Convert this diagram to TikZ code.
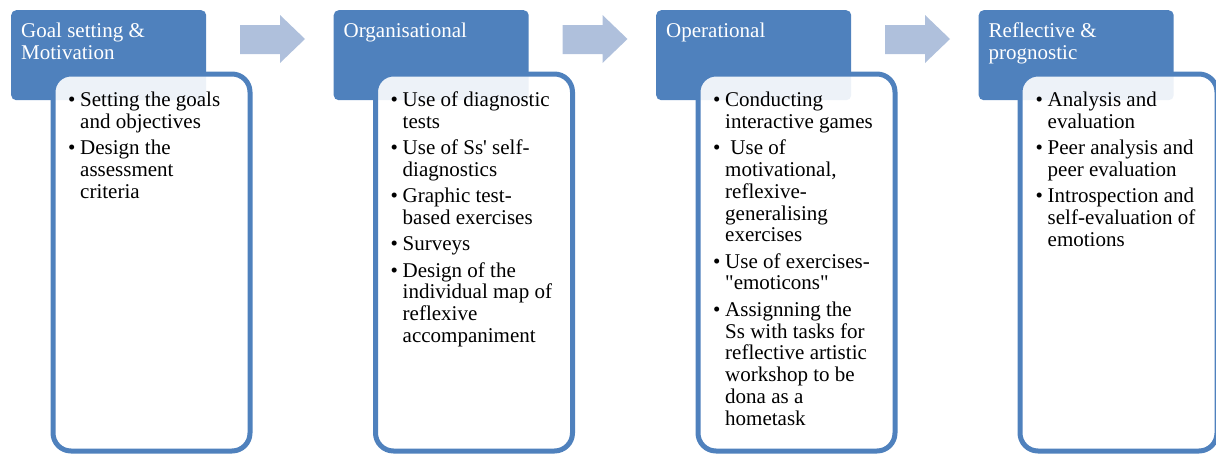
\documentclass[tikz,border=0pt]{standalone}
\usepackage{fontspec}
\setmainfont{Liberation Serif}
\definecolor{hdblue}{HTML}{4F81BD}
\definecolor{arrblue}{HTML}{AFC0DC}
\newcommand{\hdlines}[1]{\begin{minipage}[t]{185pt}\raggedright #1\end{minipage}}
\newcommand{\blist}[1]{\begin{minipage}[t]{185pt}\raggedright\let\\\newline\parskip=4.5pt #1\end{minipage}}
\newcommand{\bitem}[1]{\par\hangindent=12pt\hangafter=1\noindent\makebox[12pt][l]{\textbullet}#1\par}
\begin{document}
\begin{tikzpicture}[x=1pt, y=-1pt,
    head/.style={fill=hdblue, rounded corners=5, anchor=north west, minimum width=195, minimum height=90, inner sep=0},
    card/.style={draw=hdblue, line width=5, rounded corners=18, fill=white, fill opacity=0.9, anchor=north west, minimum width=197, minimum height=377, inner sep=0},
    headtext/.style={anchor=base west, inner sep=0, text=white, font=\fontsize{21}{22}\selectfont},
    listtext/.style={anchor=base west, inner sep=0, text=black, font=\fontsize{21}{21.8}\selectfont},
    flow/.style={fill=arrblue}]
    \useasboundingbox (0,0) rectangle (1216,453);
    \node[head] (head1) at (11,10) {};
    \node[head] (head2) at (333.5,10) {};
    \node[head] (head3) at (656,10) {};
    \node[head] (head4) at (978.5,10) {};
    \node[card] (card1) at (50.5,71.5) {};
    \node[card] (card2) at (373,71.5) {};
    \node[card] (card3) at (695.5,71.5) {};
    \node[card] (card4) at (1017.5,71.5) {};
    \fill[flow] (240,25) -- (280,25) -- (280,15) -- (305,39) -- (280,63) -- (280,54) -- (240,54) -- cycle;
    \fill[flow] (562.5,25) -- (602.5,25) -- (602.5,15) -- (627.5,39) -- (602.5,63) -- (602.5,54) -- (562.5,54) -- cycle;
    \fill[flow] (885,25) -- (925,25) -- (925,15) -- (950,39) -- (925,63) -- (925,54) -- (885,54) -- cycle;
    \node[headtext] (title1) at (21,37) {\hdlines{Goal setting \&\\Motivation}};
    \node[headtext] (title2) at (343.5,37) {\hdlines{Organisational}};
    \node[headtext] (title3) at (666,37) {\hdlines{Operational}};
    \node[headtext] (title4) at (988.5,37) {\hdlines{Reflective \&\\prognostic}};
    \node[listtext] (list1) at (68,106.5) {\blist{%
        \bitem{Setting the goals\\and objectives}%
        \bitem{Design the\\assessment\\criteria}}};
    \node[listtext] (list2) at (390.5,106.5) {\blist{%
        \bitem{Use of diagnostic\\tests}%
        \bitem{Use of Ss\textquotesingle{} self-\\diagnostics}%
        \bitem{Graphic test-\\based exercises}%
        \bitem{Surveys}%
        \bitem{Design of the\\individual map of\\reflexive\\accompaniment}}};
    \node[listtext] (list3) at (713,106.5) {\blist{%
        \bitem{Conducting\\interactive games}%
        \bitem{\ Use of\\motivational,\\reflexive-\\generalising\\exercises}%
        \bitem{Use of exercises-\\\textquotedbl emoticons\textquotedbl}%
        \bitem{Assignning the\\Ss with tasks for\\reflective artistic\\workshop to be\\dona as a\\hometask}}};
    \node[listtext] (list4) at (1035.5,106.5) {\blist{%
        \bitem{Analysis and\\evaluation}%
        \bitem{Peer analysis and\\peer evaluation}%
        \bitem{Introspection and\\self-evaluation of\\emotions}}};
\end{tikzpicture}
\end{document}
